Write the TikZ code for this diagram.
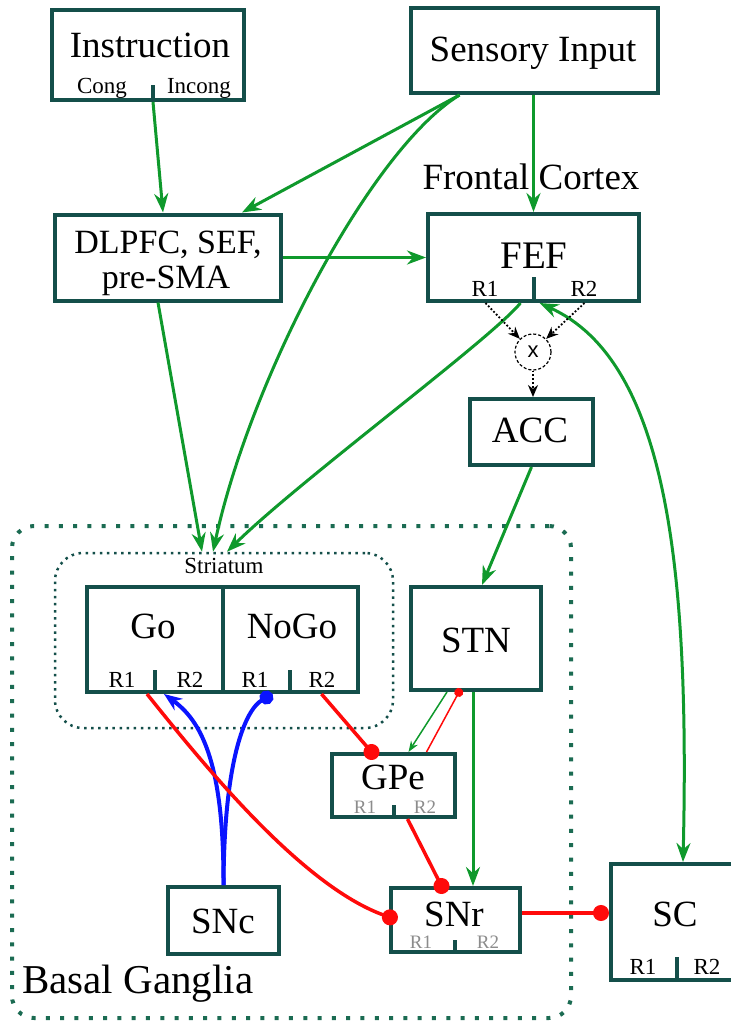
\documentclass[tikz,border=0pt]{standalone}
\usepackage{fontspec}
\setmainfont{Liberation Serif}
\newfontfamily\xsans{Liberation Sans}
\usetikzlibrary{arrows.meta,positioning,shapes,calc}
\definecolor{boxteal} {HTML}{144F4A}
\definecolor{fibgreen}{HTML}{0F992C}
\definecolor{bgteal}  {HTML}{1B6B52}
\definecolor{inhred}  {HTML}{FF0A0A}
\definecolor{dablue}  {HTML}{0A14FF}
\definecolor{rgrey}   {HTML}{8C8C8C}
\tikzset{
  area/.style      ={draw=boxteal, line width=4pt, fill=white, inner sep=0pt},
  tick/.style      ={draw=boxteal, line width=4pt},
  bigtxt/.style    ={anchor=base, inner sep=0pt, font=\fontsize{37}{42}\selectfont},
  smalltxt/.style  ={anchor=base, inner sep=0pt, font=\fontsize{23}{26}\selectfont},
  greytxt/.style   ={anchor=base, inner sep=0pt, text=rgrey, font=\fontsize{19}{22}\selectfont},
  excite/.style    ={-{Stealth[length=19pt,width=14pt]}, line width=3pt, draw=fibgreen},
  bothexcite/.style={{Stealth[length=19pt,width=14pt]}-{Stealth[length=19pt,width=14pt]},
                     line width=3pt, draw=fibgreen},
  thinexcite/.style={-{Stealth[length=11pt,width=8pt]}, line width=1.5pt, draw=fibgreen},
  inhib/.style     ={-{Circle[length=16pt]}, line width=3.5pt, draw=inhred},
  thininhib/.style ={-{Circle[length=9pt]}, line width=1.5pt, draw=inhred},
  daexcite/.style  ={-{Stealth[length=18pt,width=14pt]}, line width=4pt, draw=dablue},
  dainhib/.style   ={-{Circle[length=14pt]}, line width=4pt, draw=dablue},
  prod/.style      ={-{Stealth[length=12pt,width=10pt]}, line width=1.8pt, dotted, draw=black},
}

\begin{document}
\begin{tikzpicture}[x=1pt,y=-1pt]
    \useasboundingbox (0,0) rectangle (731,1021);

    % basal ganglia and striatum frames
    \node[draw=bgteal, line width=4pt, dash pattern=on 4pt off 10.3pt, rounded corners=22pt,
          minimum width=559pt, minimum height=492pt] (bg) at (291.5,772) {};
    \node[draw=boxteal, line width=2.5pt, dash pattern=on 2.5pt off 4.6pt, rounded corners=28pt,
          minimum width=338pt, minimum height=175pt] (striatum) at (224,640.5) {};

    % areas
    \node[area, minimum width=192pt, minimum height=90pt]  (instr)   at (148,55)    {};
    \node[area, minimum width=247pt, minimum height=85pt]  (sensory) at (534.5,50.5) {};
    \node[area, minimum width=226pt, minimum height=86pt]  (dlpfc)   at (168,257.5) {};
    \node[area, minimum width=211pt, minimum height=87pt]  (fef)     at (533.5,257.5) {};
    \node[area, minimum width=123pt, minimum height=66pt]  (acc)     at (531.5,432) {};
    \node[area, minimum width=136pt, minimum height=105pt] (go)      at (155,639.5) {};
    \node[area, minimum width=135pt, minimum height=105pt] (nogo)    at (290.5,639.5) {};
    \node[area, minimum width=130pt, minimum height=103pt] (stn)     at (476,638.5) {};
    \node[area, minimum width=123pt, minimum height=63pt]  (gpe)     at (393.5,785.5) {};
    \node[area, minimum width=129pt, minimum height=64pt]  (snr)     at (455.5,920) {};
    \node[area, minimum width=111pt, minimum height=67pt]  (snc)     at (223.5,920.5) {};
    \node[area, minimum width=130pt, minimum height=116pt] (sc)      at (676,922) {};

    \draw[tick] (153,85)  -- (153,100);
    \draw[tick] (534,277) -- (534,301);
    \draw[tick] (155,670) -- (155,692);
    \draw[tick] (290,670) -- (290,692);
    \draw[tick] (394,805) -- (394,817);
    \draw[tick] (455,940) -- (455,952);
    \draw[tick] (677,957) -- (677,980);

    \node[circle, draw, densely dashed, line width=1.2pt, minimum size=36pt, inner sep=0pt,
          font=\xsans\fontsize{22}{24}\selectfont] (mult) at (533,352) {x};

    % labels
    \node[bigtxt] (instr-t)   at (150,57)  {Instruction};
    \node[smalltxt] (cong)    at (102,93)  {Cong};
    \node[smalltxt] (incong)  at (199,93)  {Incong};
    \node[bigtxt] (sensory-t) at (533,61)  {Sensory Input};
    \node[bigtxt] (frontal)   at (531,189) {Frontal Cortex};
    \node[bigtxt, font=\fontsize{34}{38}\selectfont] (dlpfc-t1) at (168,253) {DLPFC, SEF,};
    \node[bigtxt, font=\fontsize{34}{38}\selectfont] (dlpfc-t2) at (166,288) {pre-SMA};
    \node[bigtxt, font=\fontsize{39}{42}\selectfont] (fef-t) at (534,268) {FEF};
    \node[smalltxt] (fef-r1)  at (485,296) {R1};
    \node[smalltxt] (fef-r2)  at (584,296) {R2};
    \node[bigtxt] (acc-t)     at (530,442) {ACC};
    \node[smalltxt] (str-t)   at (224,573) {Striatum};
    \node[bigtxt] (go-t)      at (153,638) {Go};
    \node[bigtxt] (nogo-t)    at (292,638) {NoGo};
    \node[smalltxt] (go-r1)   at (122,687) {R1};
    \node[smalltxt] (go-r2)   at (190,687) {R2};
    \node[smalltxt] (nogo-r1) at (255,687) {R1};
    \node[smalltxt] (nogo-r2) at (322,687) {R2};
    \node[bigtxt] (stn-t)     at (476,652) {STN};
    \node[bigtxt] (gpe-t)     at (393,789) {GPe};
    \node[greytxt] (gpe-r1)   at (365,813) {R1};
    \node[greytxt] (gpe-r2)   at (425,813) {R2};
    \node[bigtxt] (snr-t)     at (454,926) {SNr};
    \node[greytxt] (snr-r1)   at (421,948) {R1};
    \node[greytxt] (snr-r2)   at (488,948) {R2};
    \node[bigtxt] (snc-t)     at (223,933) {SNc};
    \node[bigtxt] (sc-t)      at (675,926) {SC};
    \node[smalltxt] (sc-r1)   at (643,974) {R1};
    \node[smalltxt] (sc-r2)   at (707,974) {R2};
    \node[bigtxt, anchor=base west, font=\fontsize{41}{44}\selectfont] (bg-t) at (22,993) {Basal Ganglia};

    % cortical projections
    \draw[excite] ([xshift=5pt]instr.south) -- ([xshift=-5pt]dlpfc.north);
    \draw[excite] ([xshift=-75pt]sensory.south) -- ([xshift=74pt]dlpfc.north);
    \draw[excite] ([xshift=-75pt]sensory.south) .. controls (370,150) and (250,380) .. ([xshift=-11pt]striatum.north);
    \draw[excite] (fef.north |- sensory.south) -- (fef.north);
    \draw[excite] (dlpfc.east) -- (fef.west);
    \draw[excite] ([xshift=-10pt]dlpfc.south) -- ([xshift=-22pt]striatum.north);
    \draw[excite] ([xshift=-13pt]fef.south) .. controls (490,340) and (300,480) .. ([xshift=3pt]striatum.north);
    \draw[bothexcite] ([xshift=6pt]fef.south) .. controls (665,360) and (690,560) .. ([xshift=7pt]sc.north);

    % conflict
    \draw[prod] ([xshift=-48pt]fef.south) -- (mult.north west);
    \draw[prod] ([xshift=51pt]fef.south) -- (mult.north east);
    \draw[prod] (mult.south) -- (mult.south |- acc.north);
    \draw[excite] (acc.south) -- ([xshift=6pt]stn.north);

    % basal ganglia
    \draw[daexcite] (snc.north) .. controls (224,760) and (200,720) .. ([xshift=9pt]go.south);
    \draw[dainhib] (snc.north) .. controls (224,760) and (245,710) .. ([xshift=-18pt]nogo.south);
    \draw[excite] ([xshift=-3pt]stn.south) -- ([xshift=-3pt]stn.south |- snr.north);
    \draw[thinexcite] ([xshift=-29pt]stn.south) -- ([xshift=15pt]gpe.north);
    \draw[thininhib, shorten >=-4pt] ([xshift=33pt]gpe.north) -- ([xshift=-17pt]stn.south);
    \draw[inhib, shorten >=-8pt] ([xshift=31pt]nogo.south) -- ([xshift=-22pt]gpe.north);
    \draw[inhib, shorten >=-8pt] ([xshift=14pt]gpe.south) -- ([xshift=-14pt]snr.north);
    \draw[inhib, shorten >=-9pt] ([xshift=-8pt]go.south) .. controls (200,760) and (300,885) .. ([yshift=3pt]snr.west);
    \draw[inhib] ([yshift=7pt]snr.east) -- ([yshift=7pt]snr.east -| sc.west);
\end{tikzpicture}
\end{document}
